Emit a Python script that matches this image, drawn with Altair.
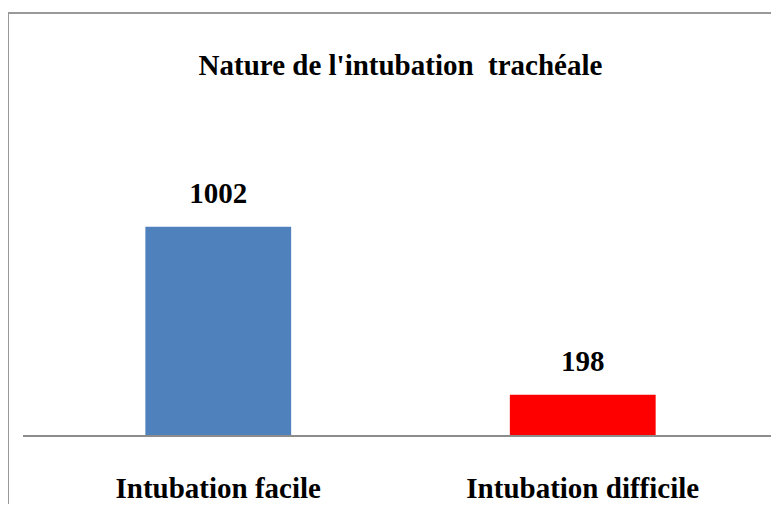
import altair as alt
import pandas as pd

categories = ["Intubation facile", "Intubation difficile"]
values = [1002, 198]
colors = ["#4F81BD", "#FF0000"]
title_text = "Nature de l'intubation \u00a0trachéale"

df = pd.DataFrame({"cat": categories, "val": values, "col": colors})

FONT = "Liberation Serif"

x = alt.X("cat:N", sort=categories, title=None,
          scale=alt.Scale(paddingInner=0.6, paddingOuter=0.3),
          axis=alt.Axis(labelAngle=0, ticks=False, domain=False, labelFont=FONT,
                        labelFontSize=29, labelFontWeight="bold", labelColor="black",
                        labelBaseline="alphabetic", labelPadding=61, labelLimit=0))
y = alt.Y("val:Q", title=None, scale=alt.Scale(domain=[0, 1600]), axis=None)

bars = alt.Chart(df).mark_bar().encode(
    x=x, y=y, color=alt.Color("col:N", scale=None, legend=None)
)
labels = alt.Chart(df).mark_text(
    font=FONT, fontSize=29, fontWeight="bold", color="black",
    baseline="alphabetic", dy=-24
).encode(x=x, y=y, text="val:Q")

baseline = alt.Chart(df).mark_rule(color="#8c8c8c", strokeWidth=2, clip=False).encode(
    x=alt.value(-13), x2=alt.value(745), y=alt.value(334)
)
frame_left = alt.Chart(df).mark_rule(color="#999999", strokeWidth=2, clip=False).encode(
    x=alt.value(-28), y=alt.value(-89), y2=alt.value(420)
)
frame_top = alt.Chart(df).mark_rule(color="#999999", strokeWidth=2, clip=False).encode(
    x=alt.value(-29), x2=alt.value(745), y=alt.value(-89)
)

chart = alt.layer(frame_left, frame_top, bars, baseline, labels).properties(
    width=729, height=334,
    autosize=alt.AutoSizeParams(type="none"),
    padding={"left": 28, "top": 94, "right": 6, "bottom": 68},
    title=alt.TitleParams(title_text, font=FONT, fontSize=29,
                          fontWeight="bold", color="black", anchor="middle",
                          frame="group", baseline="alphabetic", offset=28, dy=120),
).configure_view(stroke=None)

chart.save("out.html", embed_options={"renderer": "svg", "actions": False})
